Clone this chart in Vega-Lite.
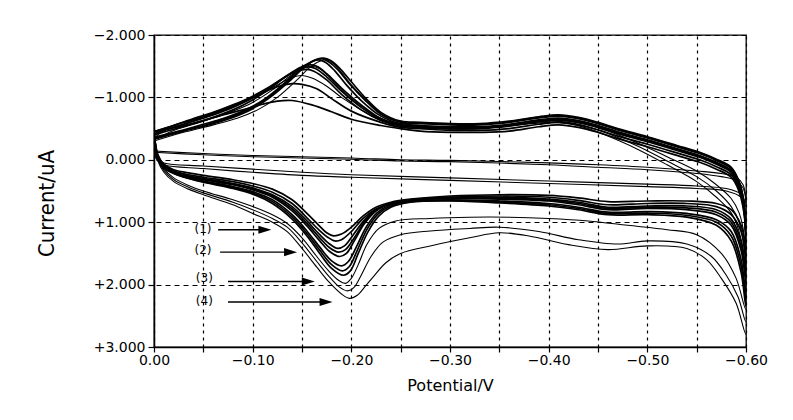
{
"$schema":"https://vega.github.io/schema/vega-lite/v6.json",
"width":592,"height":312,
"autosize":{"type":"none"},
"padding":{"left":154,"top":35,"right":47,"bottom":73},
"background":"white",
"config":{"view":{"stroke":"#000","strokeWidth":1.3}},
"datasets":{
"cv":[
{"c":1,"E":0,"I":-0.45},{"c":1,"E":-0.004,"I":-0.08},{"c":1,"E":-0.01,"I":0.07},{"c":1,"E":-0.02,"I":0.16},{"c":1,"E":-0.035,"I":0.21},{"c":1,"E":-0.05,"I":0.25},{"c":1,"E":-0.08,"I":0.32},{"c":1,"E":-0.1,"I":0.38},{"c":1,"E":-0.12,"I":0.47},{"c":1,"E":-0.14,"I":0.64},{"c":1,"E":-0.155,"I":0.86},{"c":1,"E":-0.167,"I":1.05},{"c":1,"E":-0.175,"I":1.17},{"c":1,"E":-0.182,"I":1.22},{"c":1,"E":-0.19,"I":1.19},{"c":1,"E":-0.2,"I":1.08},{"c":1,"E":-0.212,"I":0.9},{"c":1,"E":-0.225,"I":0.76},{"c":1,"E":-0.24,"I":0.68},{"c":1,"E":-0.26,"I":0.63},{"c":1,"E":-0.3,"I":0.58},{"c":1,"E":-0.35,"I":0.56},{"c":1,"E":-0.4,"I":0.57},{"c":1,"E":-0.43,"I":0.61},{"c":1,"E":-0.46,"I":0.67},{"c":1,"E":-0.5,"I":0.66},{"c":1,"E":-0.54,"I":0.66},{"c":1,"E":-0.57,"I":0.7},{"c":1,"E":-0.585,"I":0.8},{"c":1,"E":-0.595,"I":1.05},{"c":1,"E":-0.6,"I":1.4},
{"c":1,"E":-0.598,"I":0.86},{"c":1,"E":-0.593,"I":0.51},{"c":1,"E":-0.585,"I":0.28},{"c":1,"E":-0.57,"I":0.15},{"c":1,"E":-0.553,"I":0.04},{"c":1,"E":-0.53,"I":-0.07},{"c":1,"E":-0.5,"I":-0.21},{"c":1,"E":-0.47,"I":-0.34},{"c":1,"E":-0.45,"I":-0.44},{"c":1,"E":-0.43,"I":-0.52},{"c":1,"E":-0.41,"I":-0.56},{"c":1,"E":-0.39,"I":-0.53},{"c":1,"E":-0.36,"I":-0.46},{"c":1,"E":-0.33,"I":-0.44},{"c":1,"E":-0.3,"I":-0.44},{"c":1,"E":-0.27,"I":-0.46},{"c":1,"E":-0.25,"I":-0.5},{"c":1,"E":-0.23,"I":-0.55},{"c":1,"E":-0.2,"I":-0.65},{"c":1,"E":-0.18,"I":-0.77},{"c":1,"E":-0.16,"I":-0.88},{"c":1,"E":-0.14,"I":-0.95},{"c":1,"E":-0.125,"I":-0.94},{"c":1,"E":-0.11,"I":-0.89},{"c":1,"E":-0.09,"I":-0.8},{"c":1,"E":-0.07,"I":-0.72},{"c":1,"E":-0.05,"I":-0.63},{"c":1,"E":-0.03,"I":-0.55},{"c":1,"E":-0.01,"I":-0.48},{"c":1,"E":0,"I":-0.45},

{"c":2,"E":0,"I":-0.45},{"c":2,"E":-0.004,"I":-0.06},{"c":2,"E":-0.01,"I":0.09},{"c":2,"E":-0.02,"I":0.18},{"c":2,"E":-0.035,"I":0.24},{"c":2,"E":-0.05,"I":0.28},{"c":2,"E":-0.08,"I":0.35},{"c":2,"E":-0.1,"I":0.42},{"c":2,"E":-0.12,"I":0.52},{"c":2,"E":-0.14,"I":0.7},{"c":2,"E":-0.155,"I":0.93},{"c":2,"E":-0.167,"I":1.12},{"c":2,"E":-0.176,"I":1.24},{"c":2,"E":-0.183,"I":1.3},{"c":2,"E":-0.19,"I":1.28},{"c":2,"E":-0.2,"I":1.15},{"c":2,"E":-0.212,"I":0.94},{"c":2,"E":-0.225,"I":0.79},{"c":2,"E":-0.24,"I":0.7},{"c":2,"E":-0.26,"I":0.65},{"c":2,"E":-0.3,"I":0.6},{"c":2,"E":-0.35,"I":0.58},{"c":2,"E":-0.4,"I":0.6},{"c":2,"E":-0.43,"I":0.65},{"c":2,"E":-0.46,"I":0.72},{"c":2,"E":-0.5,"I":0.7},{"c":2,"E":-0.54,"I":0.7},{"c":2,"E":-0.57,"I":0.75},{"c":2,"E":-0.585,"I":0.88},{"c":2,"E":-0.595,"I":1.15},{"c":2,"E":-0.6,"I":1.55},
{"c":2,"E":-0.598,"I":0.82},{"c":2,"E":-0.593,"I":0.47},{"c":2,"E":-0.585,"I":0.24},{"c":2,"E":-0.57,"I":0.11},{"c":2,"E":-0.553,"I":0.0},{"c":2,"E":-0.53,"I":-0.11},{"c":2,"E":-0.5,"I":-0.25},{"c":2,"E":-0.47,"I":-0.38},{"c":2,"E":-0.45,"I":-0.48},{"c":2,"E":-0.43,"I":-0.56},{"c":2,"E":-0.41,"I":-0.6},{"c":2,"E":-0.39,"I":-0.57},{"c":2,"E":-0.36,"I":-0.5},{"c":2,"E":-0.33,"I":-0.47},{"c":2,"E":-0.3,"I":-0.47},{"c":2,"E":-0.27,"I":-0.5},{"c":2,"E":-0.25,"I":-0.52},{"c":2,"E":-0.23,"I":-0.6},{"c":2,"E":-0.2,"I":-0.78},{"c":2,"E":-0.18,"I":-0.98},{"c":2,"E":-0.165,"I":-1.14},{"c":2,"E":-0.15,"I":-1.21},{"c":2,"E":-0.14,"I":-1.22},{"c":2,"E":-0.125,"I":-1.17},{"c":2,"E":-0.11,"I":-1.07},{"c":2,"E":-0.09,"I":-0.92},{"c":2,"E":-0.07,"I":-0.8},{"c":2,"E":-0.05,"I":-0.69},{"c":2,"E":-0.03,"I":-0.6},{"c":2,"E":-0.01,"I":-0.5},{"c":2,"E":0,"I":-0.45},

{"c":3,"E":0,"I":-0.45},{"c":3,"E":-0.004,"I":-0.05},{"c":3,"E":-0.01,"I":0.1},{"c":3,"E":-0.02,"I":0.19},{"c":3,"E":-0.035,"I":0.26},{"c":3,"E":-0.05,"I":0.3},{"c":3,"E":-0.08,"I":0.38},{"c":3,"E":-0.1,"I":0.45},{"c":3,"E":-0.12,"I":0.56},{"c":3,"E":-0.14,"I":0.75},{"c":3,"E":-0.155,"I":0.98},{"c":3,"E":-0.168,"I":1.2},{"c":3,"E":-0.178,"I":1.35},{"c":3,"E":-0.186,"I":1.42},{"c":3,"E":-0.193,"I":1.38},{"c":3,"E":-0.202,"I":1.2},{"c":3,"E":-0.213,"I":0.97},{"c":3,"E":-0.225,"I":0.8},{"c":3,"E":-0.24,"I":0.7},{"c":3,"E":-0.26,"I":0.64},{"c":3,"E":-0.3,"I":0.6},{"c":3,"E":-0.35,"I":0.6},{"c":3,"E":-0.4,"I":0.63},{"c":3,"E":-0.43,"I":0.68},{"c":3,"E":-0.46,"I":0.76},{"c":3,"E":-0.5,"I":0.74},{"c":3,"E":-0.54,"I":0.74},{"c":3,"E":-0.57,"I":0.8},{"c":3,"E":-0.585,"I":0.95},{"c":3,"E":-0.595,"I":1.3},{"c":3,"E":-0.6,"I":1.75},
{"c":3,"E":-0.598,"I":0.78},{"c":3,"E":-0.593,"I":0.43},{"c":3,"E":-0.585,"I":0.2},{"c":3,"E":-0.57,"I":0.07},{"c":3,"E":-0.553,"I":-0.04},{"c":3,"E":-0.53,"I":-0.15},{"c":3,"E":-0.5,"I":-0.29},{"c":3,"E":-0.47,"I":-0.42},{"c":3,"E":-0.45,"I":-0.52},{"c":3,"E":-0.43,"I":-0.6},{"c":3,"E":-0.41,"I":-0.64},{"c":3,"E":-0.39,"I":-0.61},{"c":3,"E":-0.36,"I":-0.54},{"c":3,"E":-0.33,"I":-0.5},{"c":3,"E":-0.3,"I":-0.5},{"c":3,"E":-0.27,"I":-0.52},{"c":3,"E":-0.25,"I":-0.54},{"c":3,"E":-0.23,"I":-0.63},{"c":3,"E":-0.21,"I":-0.8},{"c":3,"E":-0.19,"I":-1.05},{"c":3,"E":-0.175,"I":-1.28},{"c":3,"E":-0.162,"I":-1.42},{"c":3,"E":-0.155,"I":-1.45},{"c":3,"E":-0.145,"I":-1.42},{"c":3,"E":-0.13,"I":-1.3},{"c":3,"E":-0.115,"I":-1.15},{"c":3,"E":-0.1,"I":-1.02},{"c":3,"E":-0.08,"I":-0.88},{"c":3,"E":-0.06,"I":-0.76},{"c":3,"E":-0.04,"I":-0.66},{"c":3,"E":-0.02,"I":-0.55},{"c":3,"E":0,"I":-0.45},

{"c":4,"E":0,"I":-0.4},{"c":4,"E":-0.004,"I":-0.04},{"c":4,"E":-0.01,"I":0.11},{"c":4,"E":-0.02,"I":0.2},{"c":4,"E":-0.035,"I":0.27},{"c":4,"E":-0.05,"I":0.32},{"c":4,"E":-0.08,"I":0.4},{"c":4,"E":-0.1,"I":0.48},{"c":4,"E":-0.12,"I":0.6},{"c":4,"E":-0.14,"I":0.82},{"c":4,"E":-0.155,"I":1.06},{"c":4,"E":-0.168,"I":1.3},{"c":4,"E":-0.178,"I":1.47},{"c":4,"E":-0.188,"I":1.55},{"c":4,"E":-0.195,"I":1.5},{"c":4,"E":-0.203,"I":1.3},{"c":4,"E":-0.213,"I":1.03},{"c":4,"E":-0.225,"I":0.82},{"c":4,"E":-0.24,"I":0.7},{"c":4,"E":-0.26,"I":0.64},{"c":4,"E":-0.3,"I":0.62},{"c":4,"E":-0.35,"I":0.63},{"c":4,"E":-0.4,"I":0.66},{"c":4,"E":-0.43,"I":0.72},{"c":4,"E":-0.46,"I":0.8},{"c":4,"E":-0.5,"I":0.78},{"c":4,"E":-0.54,"I":0.8},{"c":4,"E":-0.57,"I":0.88},{"c":4,"E":-0.585,"I":1.05},{"c":4,"E":-0.595,"I":1.45},{"c":4,"E":-0.6,"I":1.95},
{"c":4,"E":-0.598,"I":0.75},{"c":4,"E":-0.593,"I":0.4},{"c":4,"E":-0.585,"I":0.17},{"c":4,"E":-0.57,"I":0.04},{"c":4,"E":-0.553,"I":-0.07},{"c":4,"E":-0.53,"I":-0.18},{"c":4,"E":-0.5,"I":-0.32},{"c":4,"E":-0.47,"I":-0.45},{"c":4,"E":-0.45,"I":-0.55},{"c":4,"E":-0.43,"I":-0.63},{"c":4,"E":-0.41,"I":-0.67},{"c":4,"E":-0.39,"I":-0.64},{"c":4,"E":-0.36,"I":-0.57},{"c":4,"E":-0.33,"I":-0.53},{"c":4,"E":-0.3,"I":-0.53},{"c":4,"E":-0.27,"I":-0.55},{"c":4,"E":-0.25,"I":-0.56},{"c":4,"E":-0.23,"I":-0.66},{"c":4,"E":-0.21,"I":-0.88},{"c":4,"E":-0.19,"I":-1.15},{"c":4,"E":-0.175,"I":-1.38},{"c":4,"E":-0.165,"I":-1.5},{"c":4,"E":-0.158,"I":-1.52},{"c":4,"E":-0.148,"I":-1.48},{"c":4,"E":-0.135,"I":-1.35},{"c":4,"E":-0.12,"I":-1.17},{"c":4,"E":-0.1,"I":-0.96},{"c":4,"E":-0.08,"I":-0.8},{"c":4,"E":-0.06,"I":-0.68},{"c":4,"E":-0.04,"I":-0.58},{"c":4,"E":-0.02,"I":-0.49},{"c":4,"E":0,"I":-0.4},

{"c":5,"E":0,"I":-0.36},{"c":5,"E":-0.004,"I":-0.02},{"c":5,"E":-0.01,"I":0.12},{"c":5,"E":-0.02,"I":0.21},{"c":5,"E":-0.035,"I":0.29},{"c":5,"E":-0.05,"I":0.34},{"c":5,"E":-0.08,"I":0.43},{"c":5,"E":-0.1,"I":0.51},{"c":5,"E":-0.12,"I":0.64},{"c":5,"E":-0.14,"I":0.88},{"c":5,"E":-0.155,"I":1.14},{"c":5,"E":-0.168,"I":1.4},{"c":5,"E":-0.18,"I":1.62},{"c":5,"E":-0.19,"I":1.7},{"c":5,"E":-0.197,"I":1.63},{"c":5,"E":-0.205,"I":1.4},{"c":5,"E":-0.215,"I":1.08},{"c":5,"E":-0.226,"I":0.85},{"c":5,"E":-0.24,"I":0.72},{"c":5,"E":-0.26,"I":0.66},{"c":5,"E":-0.3,"I":0.64},{"c":5,"E":-0.35,"I":0.66},{"c":5,"E":-0.4,"I":0.7},{"c":5,"E":-0.43,"I":0.76},{"c":5,"E":-0.46,"I":0.84},{"c":5,"E":-0.5,"I":0.83},{"c":5,"E":-0.54,"I":0.86},{"c":5,"E":-0.57,"I":0.96},{"c":5,"E":-0.585,"I":1.15},{"c":5,"E":-0.595,"I":1.6},{"c":5,"E":-0.6,"I":2.15},
{"c":5,"E":-0.598,"I":0.72},{"c":5,"E":-0.593,"I":0.37},{"c":5,"E":-0.585,"I":0.14},{"c":5,"E":-0.57,"I":0.01},{"c":5,"E":-0.553,"I":-0.1},{"c":5,"E":-0.53,"I":-0.21},{"c":5,"E":-0.5,"I":-0.35},{"c":5,"E":-0.47,"I":-0.48},{"c":5,"E":-0.45,"I":-0.58},{"c":5,"E":-0.43,"I":-0.66},{"c":5,"E":-0.41,"I":-0.7},{"c":5,"E":-0.39,"I":-0.67},{"c":5,"E":-0.36,"I":-0.6},{"c":5,"E":-0.33,"I":-0.56},{"c":5,"E":-0.3,"I":-0.56},{"c":5,"E":-0.27,"I":-0.58},{"c":5,"E":-0.25,"I":-0.58},{"c":5,"E":-0.23,"I":-0.7},{"c":5,"E":-0.21,"I":-0.95},{"c":5,"E":-0.195,"I":-1.2},{"c":5,"E":-0.183,"I":-1.43},{"c":5,"E":-0.174,"I":-1.56},{"c":5,"E":-0.167,"I":-1.6},{"c":5,"E":-0.158,"I":-1.56},{"c":5,"E":-0.147,"I":-1.45},{"c":5,"E":-0.13,"I":-1.2},{"c":5,"E":-0.11,"I":-0.95},{"c":5,"E":-0.09,"I":-0.78},{"c":5,"E":-0.07,"I":-0.66},{"c":5,"E":-0.05,"I":-0.57},{"c":5,"E":-0.025,"I":-0.46},{"c":5,"E":0,"I":-0.36},

{"c":6,"E":0,"I":-0.33},{"c":6,"E":-0.004,"I":0.0},{"c":6,"E":-0.01,"I":0.13},{"c":6,"E":-0.02,"I":0.22},{"c":6,"E":-0.035,"I":0.3},{"c":6,"E":-0.05,"I":0.36},{"c":6,"E":-0.08,"I":0.46},{"c":6,"E":-0.1,"I":0.55},{"c":6,"E":-0.12,"I":0.7},{"c":6,"E":-0.14,"I":0.95},{"c":6,"E":-0.155,"I":1.22},{"c":6,"E":-0.168,"I":1.5},{"c":6,"E":-0.18,"I":1.74},{"c":6,"E":-0.192,"I":1.85},{"c":6,"E":-0.199,"I":1.78},{"c":6,"E":-0.207,"I":1.5},{"c":6,"E":-0.217,"I":1.15},{"c":6,"E":-0.228,"I":0.9},{"c":6,"E":-0.24,"I":0.76},{"c":6,"E":-0.26,"I":0.68},{"c":6,"E":-0.3,"I":0.66},{"c":6,"E":-0.35,"I":0.69},{"c":6,"E":-0.4,"I":0.74},{"c":6,"E":-0.43,"I":0.8},{"c":6,"E":-0.46,"I":0.88},{"c":6,"E":-0.5,"I":0.88},{"c":6,"E":-0.54,"I":0.92},{"c":6,"E":-0.57,"I":1.05},{"c":6,"E":-0.585,"I":1.3},{"c":6,"E":-0.595,"I":1.8},{"c":6,"E":-0.6,"I":2.35},
{"c":6,"E":-0.598,"I":0.7},{"c":6,"E":-0.593,"I":0.35},{"c":6,"E":-0.585,"I":0.12},{"c":6,"E":-0.57,"I":-0.01},{"c":6,"E":-0.553,"I":-0.12},{"c":6,"E":-0.53,"I":-0.23},{"c":6,"E":-0.5,"I":-0.37},{"c":6,"E":-0.47,"I":-0.5},{"c":6,"E":-0.45,"I":-0.6},{"c":6,"E":-0.43,"I":-0.68},{"c":6,"E":-0.41,"I":-0.72},{"c":6,"E":-0.39,"I":-0.69},{"c":6,"E":-0.36,"I":-0.62},{"c":6,"E":-0.33,"I":-0.58},{"c":6,"E":-0.3,"I":-0.58},{"c":6,"E":-0.27,"I":-0.6},{"c":6,"E":-0.25,"I":-0.62},{"c":6,"E":-0.23,"I":-0.76},{"c":6,"E":-0.215,"I":-0.98},{"c":6,"E":-0.2,"I":-1.25},{"c":6,"E":-0.188,"I":-1.47},{"c":6,"E":-0.179,"I":-1.59},{"c":6,"E":-0.172,"I":-1.63},{"c":6,"E":-0.163,"I":-1.6},{"c":6,"E":-0.152,"I":-1.48},{"c":6,"E":-0.14,"I":-1.3},{"c":6,"E":-0.12,"I":-1.03},{"c":6,"E":-0.1,"I":-0.82},{"c":6,"E":-0.08,"I":-0.68},{"c":6,"E":-0.06,"I":-0.58},{"c":6,"E":-0.03,"I":-0.46},{"c":6,"E":0,"I":-0.33},

{"c":12,"E":0,"I":-0.34},{"c":12,"E":-0.004,"I":-0.01},{"c":12,"E":-0.01,"I":0.125},{"c":12,"E":-0.02,"I":0.215},{"c":12,"E":-0.035,"I":0.295},{"c":12,"E":-0.05,"I":0.35},{"c":12,"E":-0.08,"I":0.445},{"c":12,"E":-0.1,"I":0.53},{"c":12,"E":-0.12,"I":0.67},{"c":12,"E":-0.14,"I":0.915},{"c":12,"E":-0.155,"I":1.18},{"c":12,"E":-0.168,"I":1.45},{"c":12,"E":-0.18,"I":1.68},{"c":12,"E":-0.191,"I":1.78},{"c":12,"E":-0.198,"I":1.71},{"c":12,"E":-0.206,"I":1.45},{"c":12,"E":-0.216,"I":1.11},{"c":12,"E":-0.227,"I":0.87},{"c":12,"E":-0.24,"I":0.74},{"c":12,"E":-0.26,"I":0.67},{"c":12,"E":-0.3,"I":0.65},{"c":12,"E":-0.35,"I":0.675},{"c":12,"E":-0.4,"I":0.72},{"c":12,"E":-0.43,"I":0.78},{"c":12,"E":-0.46,"I":0.86},{"c":12,"E":-0.5,"I":0.855},{"c":12,"E":-0.54,"I":0.89},{"c":12,"E":-0.57,"I":1.0},{"c":12,"E":-0.585,"I":1.22},{"c":12,"E":-0.595,"I":1.7},{"c":12,"E":-0.6,"I":2.25},
{"c":12,"E":-0.598,"I":0.71},{"c":12,"E":-0.593,"I":0.36},{"c":12,"E":-0.585,"I":0.13},{"c":12,"E":-0.57,"I":0.0},{"c":12,"E":-0.553,"I":-0.11},{"c":12,"E":-0.53,"I":-0.22},{"c":12,"E":-0.5,"I":-0.36},{"c":12,"E":-0.47,"I":-0.49},{"c":12,"E":-0.45,"I":-0.59},{"c":12,"E":-0.43,"I":-0.67},{"c":12,"E":-0.41,"I":-0.71},{"c":12,"E":-0.39,"I":-0.68},{"c":12,"E":-0.36,"I":-0.61},{"c":12,"E":-0.33,"I":-0.57},{"c":12,"E":-0.3,"I":-0.57},{"c":12,"E":-0.27,"I":-0.59},{"c":12,"E":-0.25,"I":-0.6},{"c":12,"E":-0.23,"I":-0.73},{"c":12,"E":-0.213,"I":-0.97},{"c":12,"E":-0.198,"I":-1.22},{"c":12,"E":-0.186,"I":-1.45},{"c":12,"E":-0.177,"I":-1.57},{"c":12,"E":-0.17,"I":-1.62},{"c":12,"E":-0.161,"I":-1.58},{"c":12,"E":-0.15,"I":-1.46},{"c":12,"E":-0.135,"I":-1.25},{"c":12,"E":-0.115,"I":-0.99},{"c":12,"E":-0.095,"I":-0.8},{"c":12,"E":-0.075,"I":-0.67},{"c":12,"E":-0.055,"I":-0.57},{"c":12,"E":-0.028,"I":-0.46},{"c":12,"E":0,"I":-0.34},

{"c":13,"E":0,"I":-0.42},{"c":13,"E":-0.004,"I":-0.045},{"c":13,"E":-0.01,"I":0.105},{"c":13,"E":-0.02,"I":0.195},{"c":13,"E":-0.035,"I":0.265},{"c":13,"E":-0.05,"I":0.31},{"c":13,"E":-0.08,"I":0.39},{"c":13,"E":-0.1,"I":0.465},{"c":13,"E":-0.12,"I":0.58},{"c":13,"E":-0.14,"I":0.785},{"c":13,"E":-0.155,"I":1.02},{"c":13,"E":-0.168,"I":1.25},{"c":13,"E":-0.178,"I":1.41},{"c":13,"E":-0.187,"I":1.48},{"c":13,"E":-0.194,"I":1.44},{"c":13,"E":-0.203,"I":1.25},{"c":13,"E":-0.213,"I":1.0},{"c":13,"E":-0.225,"I":0.81},{"c":13,"E":-0.24,"I":0.7},{"c":13,"E":-0.26,"I":0.64},{"c":13,"E":-0.3,"I":0.61},{"c":13,"E":-0.35,"I":0.615},{"c":13,"E":-0.4,"I":0.645},{"c":13,"E":-0.43,"I":0.7},{"c":13,"E":-0.46,"I":0.78},{"c":13,"E":-0.5,"I":0.76},{"c":13,"E":-0.54,"I":0.77},{"c":13,"E":-0.57,"I":0.84},{"c":13,"E":-0.585,"I":1.0},{"c":13,"E":-0.595,"I":1.38},{"c":13,"E":-0.6,"I":1.85},
{"c":13,"E":-0.598,"I":0.765},{"c":13,"E":-0.593,"I":0.415},{"c":13,"E":-0.585,"I":0.185},{"c":13,"E":-0.57,"I":0.055},{"c":13,"E":-0.553,"I":-0.055},{"c":13,"E":-0.53,"I":-0.165},{"c":13,"E":-0.5,"I":-0.305},{"c":13,"E":-0.47,"I":-0.435},{"c":13,"E":-0.45,"I":-0.535},{"c":13,"E":-0.43,"I":-0.615},{"c":13,"E":-0.41,"I":-0.655},{"c":13,"E":-0.39,"I":-0.625},{"c":13,"E":-0.36,"I":-0.555},{"c":13,"E":-0.33,"I":-0.515},{"c":13,"E":-0.3,"I":-0.515},{"c":13,"E":-0.27,"I":-0.535},{"c":13,"E":-0.25,"I":-0.55},{"c":13,"E":-0.23,"I":-0.645},{"c":13,"E":-0.21,"I":-0.84},{"c":13,"E":-0.19,"I":-1.1},{"c":13,"E":-0.175,"I":-1.33},{"c":13,"E":-0.164,"I":-1.46},{"c":13,"E":-0.157,"I":-1.49},{"c":13,"E":-0.147,"I":-1.45},{"c":13,"E":-0.133,"I":-1.33},{"c":13,"E":-0.118,"I":-1.16},{"c":13,"E":-0.1,"I":-0.99},{"c":13,"E":-0.08,"I":-0.84},{"c":13,"E":-0.06,"I":-0.72},{"c":13,"E":-0.04,"I":-0.62},{"c":13,"E":-0.02,"I":-0.52},{"c":13,"E":0,"I":-0.42},

{"c":7,"E":0,"I":-0.3},{"c":7,"E":-0.004,"I":0.02},{"c":7,"E":-0.01,"I":0.2},{"c":7,"E":-0.02,"I":0.35},{"c":7,"E":-0.035,"I":0.47},{"c":7,"E":-0.05,"I":0.56},{"c":7,"E":-0.08,"I":0.72},{"c":7,"E":-0.1,"I":0.86},{"c":7,"E":-0.12,"I":1.0},{"c":7,"E":-0.135,"I":1.15},{"c":7,"E":-0.15,"I":1.42},{"c":7,"E":-0.165,"I":1.72},{"c":7,"E":-0.178,"I":1.97},{"c":7,"E":-0.19,"I":2.15},{"c":7,"E":-0.198,"I":2.22},{"c":7,"E":-0.206,"I":2.17},{"c":7,"E":-0.214,"I":2.03},{"c":7,"E":-0.222,"I":1.88},{"c":7,"E":-0.235,"I":1.65},{"c":7,"E":-0.25,"I":1.5},{"c":7,"E":-0.28,"I":1.38},{"c":7,"E":-0.32,"I":1.25},{"c":7,"E":-0.35,"I":1.17},{"c":7,"E":-0.38,"I":1.22},{"c":7,"E":-0.42,"I":1.36},{"c":7,"E":-0.46,"I":1.44},{"c":7,"E":-0.5,"I":1.38},{"c":7,"E":-0.54,"I":1.42},{"c":7,"E":-0.56,"I":1.6},{"c":7,"E":-0.575,"I":1.9},{"c":7,"E":-0.59,"I":2.3},{"c":7,"E":-0.6,"I":2.8},
{"c":7,"E":-0.598,"I":1.6},{"c":7,"E":-0.593,"I":1.15},{"c":7,"E":-0.585,"I":0.85},{"c":7,"E":-0.57,"I":0.6},{"c":7,"E":-0.55,"I":0.35},{"c":7,"E":-0.52,"I":0.08},{"c":7,"E":-0.49,"I":-0.17},{"c":7,"E":-0.46,"I":-0.38},{"c":7,"E":-0.44,"I":-0.5},{"c":7,"E":-0.42,"I":-0.58},{"c":7,"E":-0.4,"I":-0.6},{"c":7,"E":-0.37,"I":-0.56},{"c":7,"E":-0.33,"I":-0.5},{"c":7,"E":-0.3,"I":-0.49},{"c":7,"E":-0.27,"I":-0.52},{"c":7,"E":-0.25,"I":-0.6},{"c":7,"E":-0.23,"I":-0.74},{"c":7,"E":-0.215,"I":-0.95},{"c":7,"E":-0.2,"I":-1.2},{"c":7,"E":-0.19,"I":-1.4},{"c":7,"E":-0.182,"I":-1.54},{"c":7,"E":-0.176,"I":-1.6},{"c":7,"E":-0.168,"I":-1.58},{"c":7,"E":-0.157,"I":-1.47},{"c":7,"E":-0.145,"I":-1.28},{"c":7,"E":-0.125,"I":-1.0},{"c":7,"E":-0.105,"I":-0.8},{"c":7,"E":-0.085,"I":-0.67},{"c":7,"E":-0.06,"I":-0.56},{"c":7,"E":-0.03,"I":-0.44},{"c":7,"E":0,"I":-0.3},

{"c":8,"E":0,"I":-0.32},{"c":8,"E":-0.004,"I":0.0},{"c":8,"E":-0.01,"I":0.17},{"c":8,"E":-0.02,"I":0.32},{"c":8,"E":-0.035,"I":0.44},{"c":8,"E":-0.05,"I":0.53},{"c":8,"E":-0.08,"I":0.68},{"c":8,"E":-0.1,"I":0.8},{"c":8,"E":-0.12,"I":0.94},{"c":8,"E":-0.135,"I":1.08},{"c":8,"E":-0.15,"I":1.33},{"c":8,"E":-0.165,"I":1.63},{"c":8,"E":-0.178,"I":1.88},{"c":8,"E":-0.188,"I":2.04},{"c":8,"E":-0.196,"I":2.1},{"c":8,"E":-0.203,"I":2.04},{"c":8,"E":-0.21,"I":1.85},{"c":8,"E":-0.22,"I":1.55},{"c":8,"E":-0.232,"I":1.32},{"c":8,"E":-0.25,"I":1.2},{"c":8,"E":-0.28,"I":1.14},{"c":8,"E":-0.32,"I":1.1},{"c":8,"E":-0.35,"I":1.08},{"c":8,"E":-0.39,"I":1.15},{"c":8,"E":-0.43,"I":1.28},{"c":8,"E":-0.47,"I":1.35},{"c":8,"E":-0.5,"I":1.3},{"c":8,"E":-0.54,"I":1.35},{"c":8,"E":-0.565,"I":1.55},{"c":8,"E":-0.58,"I":1.85},{"c":8,"E":-0.592,"I":2.2},{"c":8,"E":-0.6,"I":2.6},
{"c":8,"E":-0.598,"I":1.4},{"c":8,"E":-0.593,"I":1.0},{"c":8,"E":-0.585,"I":0.75},{"c":8,"E":-0.57,"I":0.5},{"c":8,"E":-0.55,"I":0.27},{"c":8,"E":-0.52,"I":0.02},{"c":8,"E":-0.49,"I":-0.22},{"c":8,"E":-0.46,"I":-0.42},{"c":8,"E":-0.44,"I":-0.53},{"c":8,"E":-0.42,"I":-0.6},{"c":8,"E":-0.4,"I":-0.62},{"c":8,"E":-0.37,"I":-0.57},{"c":8,"E":-0.33,"I":-0.51},{"c":8,"E":-0.3,"I":-0.5},{"c":8,"E":-0.27,"I":-0.52},{"c":8,"E":-0.25,"I":-0.56},{"c":8,"E":-0.23,"I":-0.66},{"c":8,"E":-0.21,"I":-0.86},{"c":8,"E":-0.19,"I":-1.12},{"c":8,"E":-0.178,"I":-1.32},{"c":8,"E":-0.168,"I":-1.46},{"c":8,"E":-0.16,"I":-1.5},{"c":8,"E":-0.15,"I":-1.46},{"c":8,"E":-0.137,"I":-1.33},{"c":8,"E":-0.12,"I":-1.12},{"c":8,"E":-0.1,"I":-0.92},{"c":8,"E":-0.08,"I":-0.78},{"c":8,"E":-0.06,"I":-0.67},{"c":8,"E":-0.04,"I":-0.57},{"c":8,"E":-0.02,"I":-0.47},{"c":8,"E":0,"I":-0.32},

{"c":9,"E":0,"I":-0.34},{"c":9,"E":-0.004,"I":-0.02},{"c":9,"E":-0.01,"I":0.14},{"c":9,"E":-0.02,"I":0.29},{"c":9,"E":-0.035,"I":0.41},{"c":9,"E":-0.05,"I":0.5},{"c":9,"E":-0.08,"I":0.64},{"c":9,"E":-0.1,"I":0.75},{"c":9,"E":-0.12,"I":0.88},{"c":9,"E":-0.135,"I":1.02},{"c":9,"E":-0.15,"I":1.25},{"c":9,"E":-0.165,"I":1.55},{"c":9,"E":-0.177,"I":1.78},{"c":9,"E":-0.187,"I":1.93},{"c":9,"E":-0.194,"I":1.98},{"c":9,"E":-0.2,"I":1.9},{"c":9,"E":-0.207,"I":1.68},{"c":9,"E":-0.216,"I":1.35},{"c":9,"E":-0.228,"I":1.1},{"c":9,"E":-0.245,"I":0.98},{"c":9,"E":-0.28,"I":0.94},{"c":9,"E":-0.32,"I":0.92},{"c":9,"E":-0.36,"I":0.92},{"c":9,"E":-0.4,"I":0.94},{"c":9,"E":-0.44,"I":0.98},{"c":9,"E":-0.48,"I":1.05},{"c":9,"E":-0.52,"I":1.12},{"c":9,"E":-0.55,"I":1.2},{"c":9,"E":-0.575,"I":1.5},{"c":9,"E":-0.59,"I":1.9},{"c":9,"E":-0.6,"I":2.4},
{"c":9,"E":-0.598,"I":1.2},{"c":9,"E":-0.593,"I":0.85},{"c":9,"E":-0.585,"I":0.62},{"c":9,"E":-0.57,"I":0.4},{"c":9,"E":-0.55,"I":0.18},{"c":9,"E":-0.52,"I":-0.05},{"c":9,"E":-0.49,"I":-0.27},{"c":9,"E":-0.46,"I":-0.46},{"c":9,"E":-0.44,"I":-0.56},{"c":9,"E":-0.42,"I":-0.62},{"c":9,"E":-0.4,"I":-0.63},{"c":9,"E":-0.37,"I":-0.58},{"c":9,"E":-0.33,"I":-0.52},{"c":9,"E":-0.3,"I":-0.51},{"c":9,"E":-0.27,"I":-0.53},{"c":9,"E":-0.25,"I":-0.55},{"c":9,"E":-0.23,"I":-0.63},{"c":9,"E":-0.21,"I":-0.8},{"c":9,"E":-0.19,"I":-1.0},{"c":9,"E":-0.175,"I":-1.18},{"c":9,"E":-0.16,"I":-1.31},{"c":9,"E":-0.15,"I":-1.35},{"c":9,"E":-0.14,"I":-1.32},{"c":9,"E":-0.125,"I":-1.2},{"c":9,"E":-0.11,"I":-1.07},{"c":9,"E":-0.09,"I":-0.93},{"c":9,"E":-0.07,"I":-0.8},{"c":9,"E":-0.05,"I":-0.68},{"c":9,"E":-0.03,"I":-0.57},{"c":9,"E":-0.01,"I":-0.47},{"c":9,"E":0,"I":-0.34},

{"c":10,"E":0,"I":-0.14},{"c":10,"E":-0.003,"I":-0.02},{"c":10,"E":-0.01,"I":0.05},{"c":10,"E":-0.05,"I":0.1},{"c":10,"E":-0.1,"I":0.15},{"c":10,"E":-0.15,"I":0.2},{"c":10,"E":-0.2,"I":0.24},{"c":10,"E":-0.3,"I":0.29},{"c":10,"E":-0.4,"I":0.34},{"c":10,"E":-0.5,"I":0.39},{"c":10,"E":-0.55,"I":0.42},{"c":10,"E":-0.58,"I":0.46},{"c":10,"E":-0.595,"I":0.55},{"c":10,"E":-0.6,"I":0.7},{"c":10,"E":-0.597,"I":0.4},{"c":10,"E":-0.59,"I":0.28},{"c":10,"E":-0.575,"I":0.22},{"c":10,"E":-0.55,"I":0.18},{"c":10,"E":-0.5,"I":0.12},{"c":10,"E":-0.45,"I":0.08},{"c":10,"E":-0.4,"I":0.05},{"c":10,"E":-0.3,"I":0.01},{"c":10,"E":-0.25,"I":0.0},{"c":10,"E":-0.2,"I":-0.03},{"c":10,"E":-0.1,"I":-0.07},{"c":10,"E":-0.05,"I":-0.1},{"c":10,"E":0,"I":-0.14},

{"c":11,"E":0,"I":-0.12},{"c":11,"E":-0.003,"I":0.0},{"c":11,"E":-0.01,"I":0.08},{"c":11,"E":-0.05,"I":0.14},{"c":11,"E":-0.1,"I":0.2},{"c":11,"E":-0.15,"I":0.25},{"c":11,"E":-0.2,"I":0.28},{"c":11,"E":-0.3,"I":0.33},{"c":11,"E":-0.4,"I":0.38},{"c":11,"E":-0.5,"I":0.43},{"c":11,"E":-0.55,"I":0.46},{"c":11,"E":-0.58,"I":0.5},{"c":11,"E":-0.595,"I":0.6},{"c":11,"E":-0.6,"I":0.75},{"c":11,"E":-0.597,"I":0.45},{"c":11,"E":-0.59,"I":0.33},{"c":11,"E":-0.575,"I":0.27},{"c":11,"E":-0.55,"I":0.22},{"c":11,"E":-0.5,"I":0.16},{"c":11,"E":-0.45,"I":0.12},{"c":11,"E":-0.4,"I":0.08},{"c":11,"E":-0.3,"I":0.03},{"c":11,"E":-0.25,"I":0.02},{"c":11,"E":-0.2,"I":-0.01},{"c":11,"E":-0.1,"I":-0.05},{"c":11,"E":-0.05,"I":-0.08},{"c":11,"E":0,"I":-0.12}
],
"ann":[
{"lab":"(1)","tx":-0.0497,"ty":1.11,"x0":-0.065,"xh":-0.1124,"y":1.12},
{"lab":"(2)","tx":-0.0497,"ty":1.45,"x0":-0.067,"xh":-0.1384,"y":1.48},
{"lab":"(3)","tx":-0.051,"ty":1.9,"x0":-0.075,"xh":-0.1564,"y":1.95},
{"lab":"(4)","tx":-0.051,"ty":2.26,"x0":-0.075,"xh":-0.1744,"y":2.28}
]
},
"layer":[
{"data":{"name":"cv"},
 "transform":[{"filter":"datum.c <= 6 || datum.c >= 12"}],
 "mark":{"type":"line","interpolate":"catmull-rom","color":"#000","strokeWidth":1.7,"clip":true},
 "encoding":{
  "x":{"field":"E","type":"quantitative","title":"Potential/V",
   "scale":{"domain":[-0.6,0],"reverse":true,"nice":false,"zero":false},
   "axis":{"values":[0,-0.05,-0.1,-0.15,-0.2,-0.25,-0.3,-0.35,-0.4,-0.45,-0.5,-0.55,-0.6],
    "labelExpr":"abs(round(datum.value*100)) % 10 != 0 ? '' : (abs(datum.value) < 0.001 ? '0.00' : '−' + format(abs(datum.value), '.2f'))",
    "labelOverlap":false,"labelFlush":false,"labelBound":false,
    "grid":true,"gridDash":[3,4],"gridColor":"#000","gridOpacity":1,"gridWidth":1.2,
    "domainColor":"#000","domainWidth":1.5,"tickColor":"#000","tickSize":5,"tickWidth":1.2,
    "labelFont":"DejaVu Sans","labelFontSize":14,"labelColor":"#000","labelPadding":1,
    "titleFont":"DejaVu Sans","titleFontSize":16,"titleFontWeight":"normal","titleColor":"#000","titleY":30}},
  "y":{"field":"I","type":"quantitative","title":"Current/uA",
   "scale":{"domain":[-2,3],"reverse":true,"nice":false,"zero":false},
   "axis":{"values":[-2,-1.5,-1,-0.5,0,0.5,1,1.5,2,2.5,3],
    "labelExpr":"abs(datum.value) < 0.001 ? '0.000' : (datum.value < 0 ? '−' : '+') + format(abs(datum.value), '.3f')",
    "labelOverlap":false,"labelFlush":false,"labelBound":false,
    "grid":true,"gridDash":[5,4],"gridColor":"#000","gridOpacity":1,"gridWidth":1.2,
    "domainColor":"#000","domainWidth":1.5,"tickColor":"#000","tickSize":6,"tickWidth":1.2,
    "labelFont":"DejaVu Sans","labelFontSize":14,"labelColor":"#000","labelPadding":3,
    "titleFont":"Liberation Sans Narrow, DejaVu Sans Condensed, Liberation Sans","titleFontSize":22,"titleFontWeight":"normal","titleColor":"#000","titleX":-96,"titleY":168}},
  "detail":{"field":"c","type":"nominal"},
  "order":{"value":null}
 }},
{"data":{"name":"cv"},
 "transform":[{"filter":"datum.c >= 7 && datum.c <= 11"}],
 "mark":{"type":"line","interpolate":"catmull-rom","color":"#000","strokeWidth":1.1,"clip":true},
 "encoding":{
  "x":{"field":"E","type":"quantitative","title":"Potential/V"},
  "y":{"field":"I","type":"quantitative","title":"Current/uA"},
  "detail":{"field":"c","type":"nominal"},
  "order":{"value":null}
 }},
{"data":{"name":"ann"},
 "mark":{"type":"rule","color":"#000","strokeWidth":1.4},
 "encoding":{"x":{"field":"x0","type":"quantitative","title":"Potential/V"},"x2":{"field":"xh"},"y":{"field":"y","type":"quantitative","title":"Current/uA"}}},
{"data":{"name":"ann"},
 "mark":{"type":"point","shape":"M-1,-0.62L1,0L-1,0.62Z","filled":true,"color":"#000","opacity":1,"size":169},
 "encoding":{"x":{"field":"xh","type":"quantitative","title":"Potential/V"},"y":{"field":"y","type":"quantitative","title":"Current/uA"}}},
{"data":{"name":"ann"},
 "mark":{"type":"text","font":"DejaVu Sans","fontSize":12,"color":"#000"},
 "encoding":{"x":{"field":"tx","type":"quantitative","title":"Potential/V"},"y":{"field":"ty","type":"quantitative","title":"Current/uA"},"text":{"field":"lab"}}}
]
}
